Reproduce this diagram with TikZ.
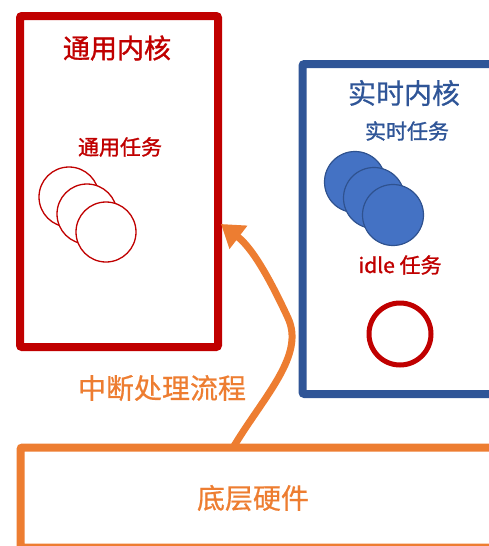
\documentclass[tikz,border=0pt]{standalone}
\usepackage{fontspec}
\setmainfont{Noto Sans CJK SC}
\newfontfamily\medfont[FakeBold=0.6]{Noto Sans CJK SC}
\newfontfamily\semifont[FakeBold=1.2]{Noto Sans CJK SC}
\usetikzlibrary{arrows.meta}
\definecolor{kred}{HTML}{C00000}
\definecolor{kblue}{HTML}{2F5597}
\definecolor{kfill}{HTML}{4472C4}
\definecolor{kedge}{HTML}{2F528F}
\definecolor{korange}{HTML}{ED7D31}
\tikzset{
  frame/.style={draw, line width=8pt, rounded corners=2pt, inner sep=0pt},
  gtask/.style={circle, draw=kred, fill=white, line width=1.3pt, minimum size=60pt, inner sep=0pt},
  rtask/.style={circle, draw=kedge, fill=kfill, line width=1.2pt, minimum size=61pt, inner sep=0pt},
  lbl/.style={inner sep=0pt, font=\fontsize{#1}{#1}\selectfont\medfont},
  blbl/.style={inner sep=0pt, font=\fontsize{#1}{#1}\selectfont\semifont},
}
\begin{document}
\begin{tikzpicture}[x=1pt,y=-1pt]
\useasboundingbox (0,0) rectangle (489,546);
\clip (0,0) rectangle (489,546);
% boxes
\node[frame, draw=kred, minimum width=198pt, minimum height=331pt] (gen) at (119,181.5) {};
\node[frame, draw=kblue, minimum width=210pt, minimum height=330pt] (rt) at (407.5,229) {};
\node[frame, draw=korange, minimum width=500pt, minimum height=100pt] (hw) at (270.5,497.5) {};
% general kernel
\node[blbl=27, text=kred] (gtitle) at (117,48) {通用内核};
\node[blbl=21, text=kred] (glabel) at (120,147) {通用任务};
\node[gtask] (g1) at (69,197) {};
\node[gtask] (g2) at (87,214) {};
\node[gtask] (g3) at (106,232) {};
% realtime kernel
\node[lbl=28, text=kblue] (rtitle) at (404,93) {实时内核};
\node[blbl=21, text=kblue] (rlabel) at (407,131) {实时任务};
\node[rtask] (r1) at (355,182) {};
\node[rtask] (r2) at (374,198) {};
\node[rtask] (r3) at (393,215) {};
\node[blbl=21, text=kred] (ilabel) at (400,265) {idle 任务};
\node[circle, draw=kred, line width=5pt, minimum size=62pt, inner sep=0pt] (idle) at (400,334) {};
% hardware
\node[lbl=28, text=korange] (hwlabel) at (253,498) {底层硬件};
\node[lbl=28, text=korange] (irq) at (162,388) {中断处理流程};
% arrow
\coordinate (a0) at (234,446);
\coordinate (a1) at (221,224);
\draw[korange, line width=7pt, -{Triangle[length=22pt,width=28pt]}]
  (a0) .. controls (265,395) and (305,355) .. (288,318)
       .. controls (275,290) and (255,250) .. (a1);
\end{tikzpicture}
\end{document}
